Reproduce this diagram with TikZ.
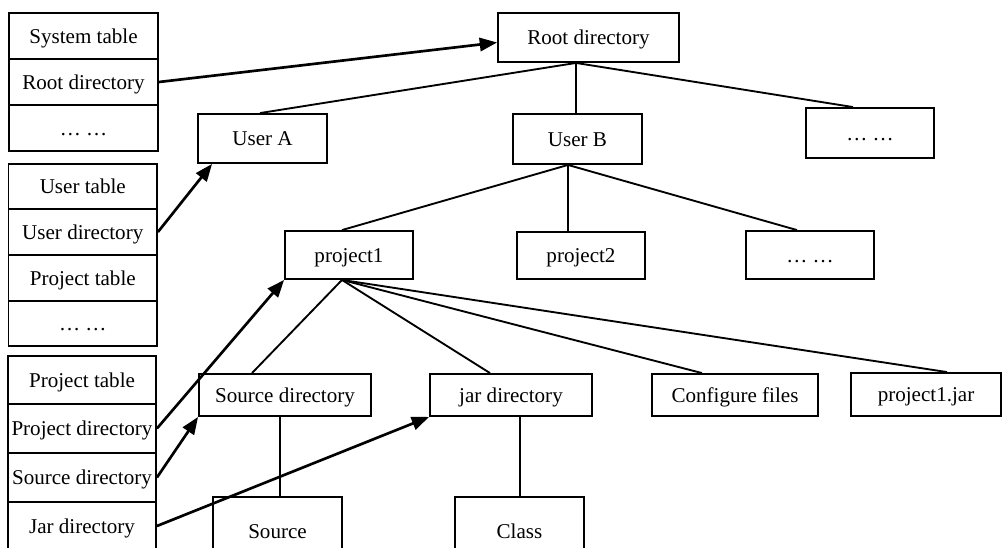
\documentclass[tikz,border=0pt]{standalone}
\usepackage{fontspec}
\setmainfont{Liberation Serif}
\usetikzlibrary{arrows.meta,calc}
\begin{document}
\begin{tikzpicture}[x=0.75pt,y=-0.75pt,
  box/.style n args={2}{draw, line width=1.4pt, minimum width=#1*0.75pt, minimum height=#2*0.75pt, inner sep=0pt, text height=13.5pt, text depth=3pt, font=\fontsize{15.8}{19}\selectfont, anchor=center},
  tline/.style={line width=1.4pt},
  ptr/.style={line width=2pt, -{Triangle[length=13pt,width=10pt]}}]
\useasboundingbox (0,0) rectangle (1003,547);
\clip (0,0) rectangle (1003,547);
% left table 1
\node[box={149}{46}] (t1a) at (83.5,36) {System table};
\node[box={149}{46}] (t1b) at (83.5,82) {Root directory};
\node[box={149}{46}] (t1c) at (83.5,128) {…\ …};
% left table 2
\node[box={148.5}{45}] (t2a) at (82.75,186.5) {User table};
\node[box={148.5}{46}] (t2b) at (82.75,232) {User directory};
\node[box={148.5}{46}] (t2c) at (82.75,278) {Project table};
\node[box={148.5}{45}] (t2d) at (82.75,323.5) {…\ …};
% left table 3
\node[box={148}{48}] (t3a) at (82,380) {Project table};
\node[box={148}{49}] (t3b) at (82,428.5) {Project directory};
\node[box={148}{49}] (t3c) at (82,477.5) {Source directory};
\node[box={148}{48}] (t3d) at (82,526) {Jar directory};
% tree
\node[box={181}{49}] (root) at (588.5,37.5) {Root directory};
\node[box={129}{49}] (userA) at (262.5,138.5) {User A};
\node[box={129}{50}] (userB) at (577.5,139) {User B};
\node[box={128}{50}] (dots1) at (870,133) {…\ …};
\node[box={128}{48}] (p1) at (349,255) {project1};
\node[box={128}{47}] (p2) at (581,255.5) {project2};
\node[box={128}{48}] (dots2) at (810,255) {…\ …};
\node[box={172}{42}] (srcdir) at (285,395) {Source directory};
\node[box={162}{42}] (jardir) at (511,395) {jar directory};
\node[box={166}{42}] (conf) at (735,395) {Configure files};
\node[box={150}{43}] (p1jar) at (926,394.5) {project1.jar};
\node[box={129}{68}] (source) at (277.5,531) {Source};
\node[box={129}{68}] (class) at (519.5,531) {Class};
% junction points
\coordinate (rootb) at ($(root.south)+(-12.5,0)$);
\coordinate (ubb) at ($(userB.south)+(-9.5,0)$);
\coordinate (p1b) at ($(p1.south)+(-7,0)$);
\coordinate (sdb) at ($(srcdir.south)+(-5,0)$);
\coordinate (jdb) at ($(jardir.south)+(9,0)$);
% tree lines
\draw[tline] (rootb) -- ($(userA.north)+(-2.5,0)$);
\draw[tline] (rootb) -- (rootb |- userB.north);
\draw[tline] (rootb) -- ($(dots1.north)+(-17,0)$);
\draw[tline] (ubb) -- ($(p1.north)+(-7,0)$);
\draw[tline] (ubb) -- (ubb |- p2.north);
\draw[tline] (ubb) -- ($(dots2.north)+(-13,0)$);
\draw[tline] (p1b) -- ($(srcdir.north)+(-33,0)$);
\draw[tline] (p1b) -- ($(jardir.north)+(-21,0)$);
\draw[tline] (p1b) -- ($(conf.north)+(-33,0)$);
\draw[tline] (p1b) -- ($(p1jar.north)+(21,0)$);
\draw[tline] (sdb) -- (sdb |- source.north);
\draw[tline] (jdb) -- (jdb |- class.north);
% pointers
\draw[ptr] (t1b.east) -- ($(root.west)+(0,5)$);
\draw[ptr] (t2b.east) -- ($(userA.south west)+(15,0)$);
\draw[ptr] (t3b.east) -- (p1.south west);
\draw[ptr] (t3c.east) -- (srcdir.south west);
\draw[ptr] (t3d.east) -- (jardir.south west);
\end{tikzpicture}
\end{document}
